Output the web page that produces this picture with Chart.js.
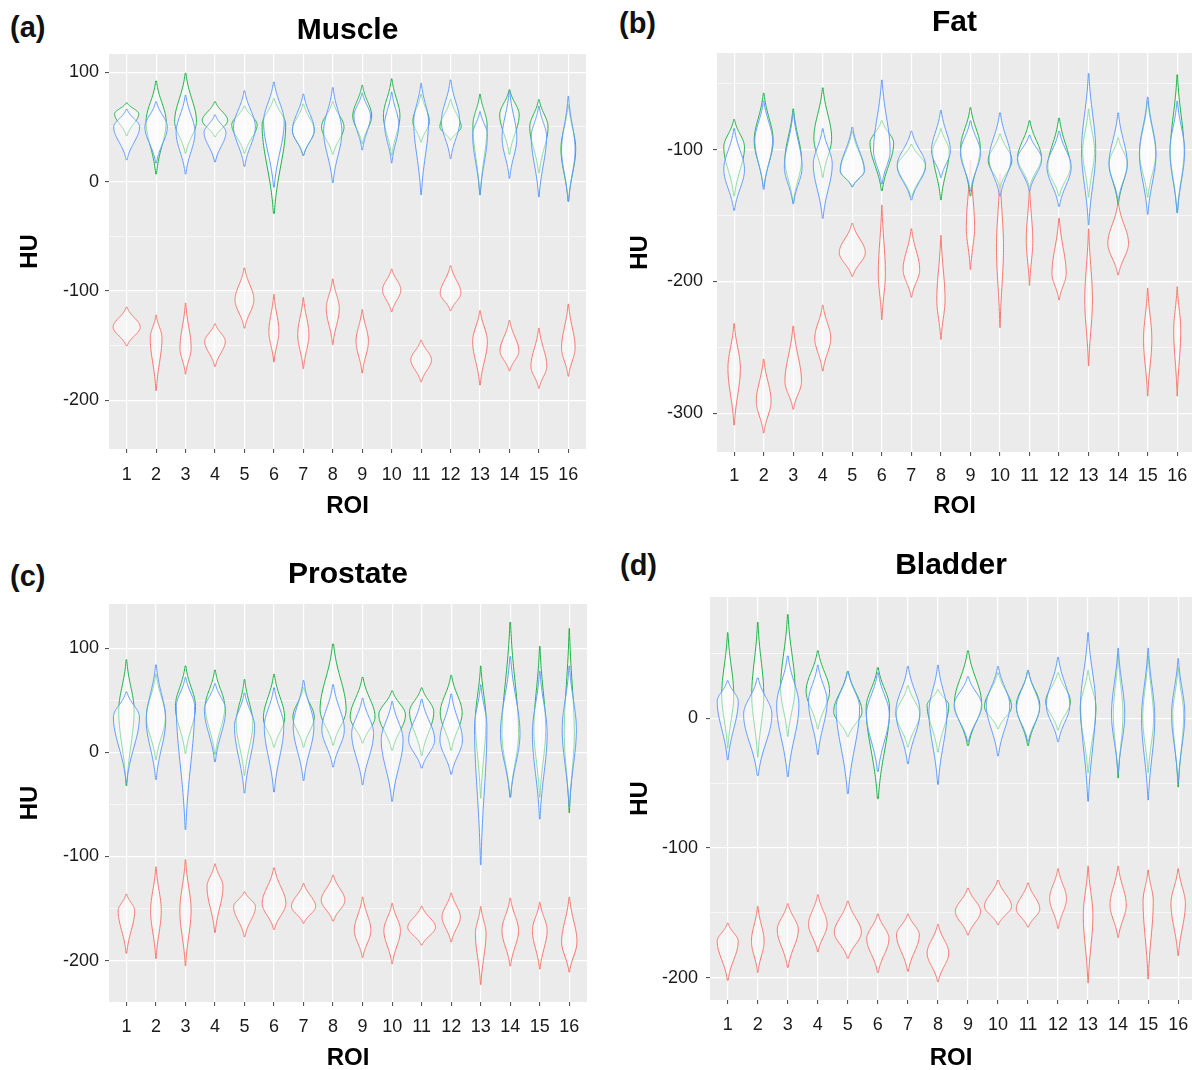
<!DOCTYPE html>
<html>
<head>
<meta charset="utf-8">
<title>HU per ROI</title>
<script src="https://cdn.jsdelivr.net/npm/chart.js@4.4.1/dist/chart.umd.min.js"></script>
<style>
  html, body { margin: 0; padding: 0; background: #fff; }
  body { width: 1192px; height: 1070px; position: relative; overflow: hidden;
         font-family: 'Liberation Sans', Arial, Helvetica, sans-serif; }
  canvas { position: absolute; }
  .tag { position: absolute; font-weight: bold; font-size: 29px; line-height: 1; color: #111; }
</style>
</head>
<body>
<div class="tag" style="left:10px;top:13px">(a)</div>
<div class="tag" style="left:619px;top:9px">(b)</div>
<div class="tag" style="left:10px;top:562px">(c)</div>
<div class="tag" style="left:620px;top:551px">(d)</div>

<canvas id="muscle" width="586" height="522" style="left:0;top:0;width:586px;height:522px"></canvas>
<canvas id="fat" width="582" height="522" style="left:610px;top:0;width:582px;height:522px"></canvas>
<canvas id="prostate" width="587" height="534" style="left:0;top:540px;width:587px;height:534px"></canvas>
<canvas id="bladder" width="582" height="534" style="left:610px;top:540px;width:582px;height:534px"></canvas>

<script>
// ROI categories on the x axis
const rois = [1, 2, 3, 4, 5, 6, 7, 8, 9, 10, 11, 12, 13, 14, 15, 16];

// each violin: [min, widest point, max, half width in ROI units]
const muscleRed = [
  [-150, -133, -115, 0.46], [-191, -143, -122, 0.20], [-176, -152, -111, 0.19], [-169, -146, -130, 0.35],
  [-134, -108, -79, 0.32], [-165, -137, -103, 0.17], [-171, -140, -106, 0.19], [-149, -116, -89, 0.22],
  [-175, -146, -117, 0.21], [-119, -99, -80, 0.31], [-183, -163, -145, 0.35], [-118, -102, -77, 0.35],
  [-186, -146, -118, 0.25], [-173, -155, -127, 0.32], [-189, -169, -134, 0.27], [-178, -152, -112, 0.23]
];
const muscleGreen = [
  [42, 62, 72, 0.41], [7, 55, 92, 0.34], [26, 55, 99, 0.37], [41, 56, 73, 0.43],
  [26, 52, 69, 0.43], [-29, 52, 76, 0.40], [24, 47, 71, 0.37], [25, 50, 73, 0.38],
  [35, 60, 88, 0.32], [24, 60, 94, 0.28], [36, 55, 80, 0.28], [38, 50, 75, 0.36],
  [-12, 52, 80, 0.24], [25, 61, 84, 0.33], [8, 50, 75, 0.31], [-18, 30, 70, 0.25]
];
const muscleBlue = [
  [20, 50, 66, 0.44], [17, 50, 73, 0.38], [7, 45, 79, 0.32], [18, 45, 61, 0.37],
  [14, 50, 83, 0.37], [-5, 55, 91, 0.35], [24, 47, 80, 0.37], [-1, 46, 86, 0.31],
  [29, 60, 81, 0.28], [17, 52, 82, 0.24], [-12, 55, 90, 0.25], [21, 55, 93, 0.31],
  [-12, 43, 64, 0.25], [3, 40, 83, 0.25], [-14, 41, 69, 0.26], [-18, 29, 78, 0.23]
];

const fatRed = [
  [-309, -266, -232, 0.21], [-315, -291, -259, 0.25], [-297, -276, -234, 0.28], [-268, -243, -218, 0.27],
  [-196, -178, -156, 0.44], [-229, -194, -142, 0.12], [-212, -191, -160, 0.28], [-244, -214, -165, 0.14],
  [-191, -159, -108, 0.14], [-235, -174, -118, 0.12], [-203, -169, -128, 0.11], [-214, -194, -152, 0.24],
  [-264, -214, -160, 0.13], [-195, -171, -141, 0.35], [-287, -244, -205, 0.14], [-287, -237, -204, 0.12]
];
const fatGreen = [
  [-135, -98, -77, 0.35], [-128, -93, -57, 0.32], [-140, -108, -69, 0.28], [-121, -91, -53, 0.30],
  [-128, -116, -86, 0.40], [-131, -95, -78, 0.40], [-136, -112, -96, 0.47], [-138, -101, -84, 0.28],
  [-135, -98, -68, 0.33], [-128, -108, -88, 0.40], [-128, -106, -78, 0.40], [-135, -113, -76, 0.38],
  [-136, -101, -69, 0.20], [-141, -110, -91, 0.30], [-136, -103, -63, 0.27], [-147, -101, -43, 0.23]
];
const fatBlue = [
  [-146, -115, -84, 0.35], [-130, -93, -63, 0.30], [-141, -113, -72, 0.30], [-152, -111, -84, 0.32],
  [-128, -116, -83, 0.41], [-126, -101, -47, 0.28], [-138, -112, -86, 0.48], [-121, -101, -70, 0.32],
  [-131, -102, -78, 0.34], [-135, -107, -72, 0.37], [-131, -107, -89, 0.41], [-143, -113, -86, 0.41],
  [-157, -101, -42, 0.24], [-138, -111, -72, 0.31], [-149, -103, -60, 0.28], [-148, -101, -63, 0.25]
];

const prostateRed = [
  [-193, -152, -136, 0.28], [-198, -152, -110, 0.18], [-205, -152, -103, 0.19], [-173, -129, -107, 0.27],
  [-177, -148, -134, 0.37], [-170, -145, -111, 0.40], [-164, -148, -126, 0.41], [-162, -142, -118, 0.40],
  [-197, -171, -139, 0.28], [-203, -171, -145, 0.28], [-185, -168, -148, 0.47], [-182, -158, -135, 0.31],
  [-223, -174, -148, 0.18], [-205, -171, -140, 0.28], [-208, -171, -144, 0.25], [-211, -182, -139, 0.26]
];
const prostateGreen = [
  [-32, 40, 89, 0.26], [-7, 34, 75, 0.32], [-1, 44, 83, 0.34], [-2, 44, 79, 0.33],
  [-22, 28, 70, 0.28], [5, 33, 75, 0.36], [5, 34, 62, 0.36], [7, 41, 104, 0.44],
  [9, 34, 72, 0.42], [2, 36, 59, 0.45], [-3, 39, 62, 0.41], [2, 38, 74, 0.37],
  [-44, 31, 83, 0.18], [-43, 18, 125, 0.28], [-43, 22, 102, 0.20], [-58, 18, 119, 0.17]
];
const prostateBlue = [
  [-28, 34, 58, 0.44], [-26, 31, 84, 0.33], [-74, 44, 72, 0.31], [-9, 41, 66, 0.36],
  [-39, 25, 57, 0.34], [-38, 25, 62, 0.33], [-27, 25, 69, 0.35], [-14, 22, 65, 0.38],
  [-31, 18, 52, 0.37], [-47, 12, 49, 0.37], [-15, 12, 51, 0.44], [-21, 12, 56, 0.38],
  [-108, 25, 65, 0.21], [-43, 18, 92, 0.33], [-64, 18, 78, 0.25], [-52, 22, 83, 0.24]
];

const bladderRed = [
  [-202, -172, -158, 0.35], [-196, -172, -145, 0.21], [-192, -163, -143, 0.35], [-180, -159, -136, 0.31],
  [-185, -165, -141, 0.45], [-196, -170, -151, 0.37], [-195, -167, -151, 0.38], [-203, -181, -159, 0.36],
  [-167, -149, -131, 0.42], [-159, -145, -125, 0.45], [-161, -147, -127, 0.39], [-162, -139, -116, 0.28],
  [-204, -152, -114, 0.16], [-169, -144, -114, 0.27], [-201, -141, -117, 0.17], [-183, -143, -116, 0.24]
];
const bladderGreen = [
  [-23, 18, 66, 0.20], [-30, 18, 74, 0.20], [-14, 23, 80, 0.24], [-8, 21, 52, 0.39],
  [-14, 5, 36, 0.47], [-62, 8, 39, 0.39], [-22, 3, 25, 0.39], [-26, 10, 22, 0.36],
  [-21, 12, 52, 0.45], [-8, 9, 35, 0.45], [-21, 10, 36, 0.39], [-9, 13, 35, 0.41],
  [-42, 8, 37, 0.26], [-46, 3, 49, 0.16], [-42, 0, 48, 0.18], [-53, 3, 39, 0.18]
];
const bladderBlue = [
  [-32, 13, 29, 0.35], [-44, 3, 31, 0.47], [-45, 10, 48, 0.37], [-28, 13, 41, 0.31],
  [-58, 8, 36, 0.39], [-41, 3, 35, 0.38], [-35, 5, 40, 0.40], [-51, 5, 41, 0.30],
  [-18, 10, 32, 0.46], [-29, 10, 40, 0.39], [-18, 8, 37, 0.38], [-18, 10, 47, 0.39],
  [-64, 10, 66, 0.25], [-42, 3, 54, 0.22], [-63, 0, 54, 0.22], [-49, 3, 46, 0.22]
];

const FONT = "'Liberation Sans', Arial, Helvetica, sans-serif";
const RED = '#F8766D';
const GREEN = '#1DB345';
const BLUE = '#619CFF';

// half width of a violin at value y, tapering away from the widest point
function halfWidth(v, y) {
  const [lo, mode, hi, w] = v;
  const u = y < mode ? (mode - y) / (mode - lo) : (y - mode) / (hi - mode);
  const k = 2.3, tail = Math.exp(-k);
  return w * (0.04 + 0.96 * (Math.exp(-k * u * u) - tail) / (1 - tail));
}

function traceViolin(ctx, xs, ys, roi, v) {
  const [lo, mode, hi] = v;
  const n = 30;
  const vals = [];
  for (let i = 0; i <= n; i++) vals.push(lo + (mode - lo) * i / n);
  for (let i = 1; i <= n; i++) vals.push(mode + (hi - mode) * i / n);

  ctx.beginPath();
  vals.forEach((y, i) => {
    const px = xs.getPixelForValue(roi + halfWidth(v, y));
    const py = ys.getPixelForValue(y);
    if (i === 0) ctx.moveTo(px, py); else ctx.lineTo(px, py);
  });
  for (let i = vals.length - 1; i >= 0; i--) {
    const y = vals[i];
    ctx.lineTo(xs.getPixelForValue(roi - halfWidth(v, y)), ys.getPixelForValue(y));
  }
  ctx.closePath();
}

function violinLayer(series) {
  return {
    id: 'violins',
    beforeDraw(chart) {
      const {ctx, chartArea: a} = chart;
      ctx.save();
      ctx.fillStyle = '#EBEBEB';
      ctx.fillRect(a.left, a.top, a.right - a.left, a.bottom - a.top);
      ctx.restore();
    },
    afterDatasetsDraw(chart) {
      const {ctx, chartArea: a} = chart;
      const xs = chart.scales.x, ys = chart.scales.y;
      ctx.save();
      ctx.beginPath();
      ctx.rect(a.left, a.top, a.right - a.left, a.bottom - a.top);
      ctx.clip();
      ctx.lineWidth = 1;
      ctx.lineJoin = 'round';
      series.forEach(s => {
        s.data.forEach((v, i) => {
          traceViolin(ctx, xs, ys, rois[i], v);
          ctx.fillStyle = 'rgba(255,255,255,0.5)';
          ctx.fill();
          ctx.strokeStyle = s.color;
          ctx.stroke();
        });
      });
      ctx.restore();
    }
  };
}

function makePanel(id, p) {
  const ctx = document.getElementById(id).getContext('2d');
  const isMajor = c => c.tick && c.tick.value % 100 === 0;
  return new Chart(ctx, {
    type: 'scatter',
    data: { datasets: [] },
    options: {
      responsive: false,
      animation: false,
      devicePixelRatio: 1,
      layout: { padding: 0 },
      plugins: {
        legend: { display: false },
        tooltip: { enabled: false },
        title: {
          display: true,
          text: p.title,
          fullSize: false,
          color: '#000',
          font: { family: FONT, size: 30, weight: 'bold' },
          padding: { top: p.titleTop, bottom: p.titleBottom }
        }
      },
      scales: {
        x: {
          type: 'linear',
          min: p.xMin,
          max: p.xMax,
          afterFit: s => { s.height = p.xHeight; s.paddingLeft = 0; s.paddingRight = 0; },
          ticks: {
            stepSize: 1,
            includeBounds: false,
            autoSkip: false,
            maxRotation: 0,
            padding: p.xPad,
            color: '#1a1a1a',
            font: { family: FONT, size: 18 },
            callback: v => rois.includes(v) ? String(v) : ''
          },
          grid: { color: '#ffffff', lineWidth: 1.2, tickLength: 4, tickColor: '#444', tickWidth: 1 },
          border: { display: false },
          title: {
            display: true, text: 'ROI', color: '#000',
            font: { family: FONT, size: 24, weight: 'bold' },
            padding: { top: 0, bottom: 1 }
          }
        },
        y: {
          type: 'linear',
          min: p.yMin,
          max: p.yMax,
          afterFit: s => { s.width = p.yWidth; },
          ticks: {
            stepSize: 50,
            includeBounds: false,
            autoSkip: false,
            padding: p.yPad,
            color: '#1a1a1a',
            font: { family: FONT, size: 18 },
            callback: v => v % 100 === 0 ? String(v) : ''
          },
          grid: {
            color: '#ffffff',
            lineWidth: c => isMajor(c) ? 1.2 : 0.6,
            tickLength: 4,
            tickColor: c => isMajor(c) ? '#444' : 'rgba(0,0,0,0)',
            tickWidth: 1
          },
          border: { display: false },
          title: {
            display: true, text: 'HU', color: '#000',
            font: { family: FONT, size: 24, weight: 'bold' },
            padding: { top: 16, bottom: 0 }
          }
        }
      }
    },
    plugins: [violinLayer(p.series)]
  });
}

makePanel('muscle', {
  title: 'Muscle', titleTop: 13, titleBottom: 5,
  xMin: 0.4, xMax: 16.6, xHeight: 73, xPad: 11,
  yMin: -244.5, yMax: 116.7, yWidth: 109, yPad: 6,
  series: [
    { color: RED, data: muscleRed },
    { color: GREEN, data: muscleGreen },
    { color: BLUE, data: muscleBlue }
  ]
});

makePanel('fat', {
  title: 'Fat', titleTop: 5, titleBottom: 12,
  xMin: 0.42, xMax: 16.5, xHeight: 70, xPad: 9,
  yMin: -329.5, yMax: -26.5, yWidth: 107, yPad: 10,
  series: [
    { color: RED, data: fatRed },
    { color: GREEN, data: fatGreen },
    { color: BLUE, data: fatBlue }
  ]
});

makePanel('prostate', {
  title: 'Prostate', titleTop: 17, titleBottom: 11,
  xMin: 0.41, xMax: 16.6, xHeight: 72, xPad: 10,
  yMin: -239.7, yMax: 142.5, yWidth: 109, yPad: 6,
  series: [
    { color: RED, data: prostateRed },
    { color: GREEN, data: prostateGreen },
    { color: BLUE, data: prostateBlue }
  ]
});

makePanel('bladder', {
  title: 'Bladder', titleTop: 8, titleBottom: 13,
  xMin: 0.41, xMax: 16.46, xHeight: 74, xPad: 10,
  yMin: -217.2, yMax: 93.5, yWidth: 100, yPad: 8,
  series: [
    { color: RED, data: bladderRed },
    { color: GREEN, data: bladderGreen },
    { color: BLUE, data: bladderBlue }
  ]
});
</script>
</body>
</html>
